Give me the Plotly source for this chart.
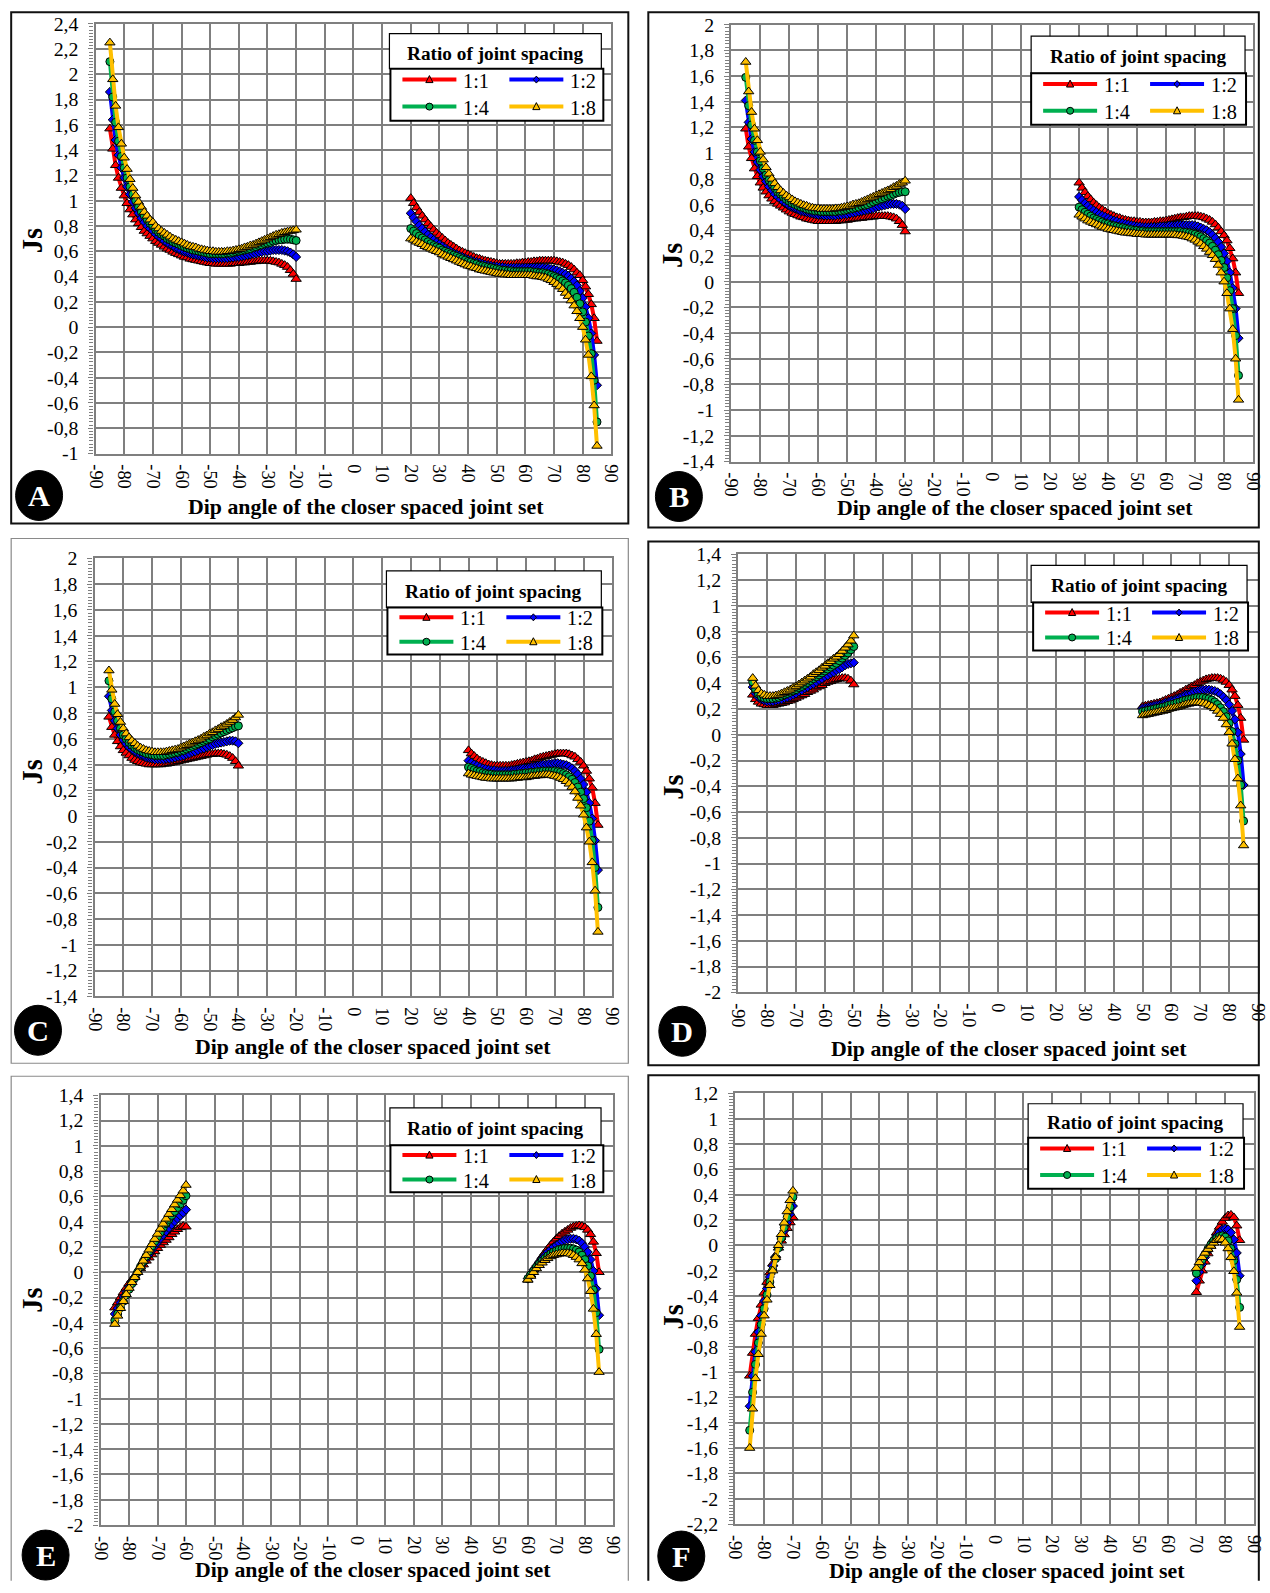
import plotly.graph_objects as go

# Figure size, and how its pixels land in the final 1270x1593 picture
# (the page adds a small offset and renders at a slight zoom).
FIG_W, FIG_H = 1270, 1593
OFF_X, ZOOM_X = 9.4, 0.9847
OFF_Y, ZOOM_Y = 10.3, 0.9866
FONT = "Liberation Serif"
GRID = "#7f7f7f"

SERIES = ["1:1", "1:2", "1:4", "1:8"]
COLORS = ["#FF0000", "#0000FF", "#00B050", "#FFC000"]
SYMBOLS = ["triangle-up", "diamond", "circle", "triangle-up"]
MARKER_SIZES = [9, 7, 8, 9]

X_TICKS = [-90, -80, -70, -60, -50, -40, -30, -20, -10, 0, 10, 20, 30, 40, 50, 60, 70, 80, 90]
Y_TICKS_A = [-1.0, -0.8, -0.6, -0.4, -0.2, 0.0, 0.2, 0.4, 0.6, 0.8, 1.0, 1.2, 1.4, 1.6, 1.8, 2.0, 2.2, 2.4]
Y_TICKS_BC = [-1.4, -1.2, -1.0, -0.8, -0.6, -0.4, -0.2, 0.0, 0.2, 0.4, 0.6, 0.8, 1.0, 1.2, 1.4, 1.6, 1.8, 2.0]
Y_TICKS_DE = [-2.0, -1.8, -1.6, -1.4, -1.2, -1.0, -0.8, -0.6, -0.4, -0.2, 0.0, 0.2, 0.4, 0.6, 0.8, 1.0, 1.2, 1.4]
Y_TICKS_F = [-2.2, -2.0, -1.8, -1.6, -1.4, -1.2, -1.0, -0.8, -0.6, -0.4, -0.2, 0.0, 0.2, 0.4, 0.6, 0.8, 1.0, 1.2]

# ---------------- Panel A ----------------
A_LEFT_DIP = list(range(-85, -19))
A_RIGHT_DIP = list(range(20, 86))
A_L_11 = [1.57, 1.41, 1.28, 1.18, 1.10, 1.04, 0.98, 0.93, 0.89, 0.85,
          0.82, 0.79, 0.76, 0.74, 0.72, 0.70, 0.68, 0.665, 0.65, 0.635,
          0.62, 0.61, 0.595, 0.585, 0.575, 0.565, 0.555, 0.55, 0.54, 0.535,
          0.53, 0.525, 0.52, 0.515, 0.51, 0.505, 0.505, 0.50, 0.50, 0.50,
          0.50, 0.50, 0.50, 0.505, 0.505, 0.505, 0.51, 0.51, 0.515, 0.515,
          0.52, 0.52, 0.525, 0.525, 0.525, 0.525, 0.525, 0.52, 0.515, 0.51,
          0.50, 0.49, 0.475, 0.45, 0.42, 0.38]
A_L_12 = [1.86, 1.64, 1.48, 1.36, 1.26, 1.18, 1.11, 1.05, 0.99, 0.94,
          0.90, 0.86, 0.83, 0.80, 0.78, 0.76, 0.735, 0.715, 0.70, 0.68,
          0.665, 0.65, 0.64, 0.625, 0.615, 0.605, 0.595, 0.59, 0.58, 0.575,
          0.57, 0.565, 0.56, 0.555, 0.55, 0.55, 0.545, 0.545, 0.545, 0.545,
          0.545, 0.545, 0.55, 0.55, 0.555, 0.555, 0.56, 0.565, 0.57, 0.575,
          0.58, 0.585, 0.59, 0.595, 0.60, 0.60, 0.605, 0.61, 0.61, 0.61,
          0.61, 0.605, 0.60, 0.59, 0.575, 0.555]
A_L_14 = [2.10, 1.82, 1.62, 1.47, 1.35, 1.26, 1.18, 1.11, 1.05, 1.00,
          0.95, 0.91, 0.88, 0.85, 0.82, 0.80, 0.77, 0.75, 0.735, 0.72,
          0.70, 0.69, 0.675, 0.665, 0.655, 0.645, 0.635, 0.625, 0.62, 0.61,
          0.605, 0.60, 0.595, 0.59, 0.585, 0.58, 0.58, 0.58, 0.58, 0.58,
          0.58, 0.585, 0.585, 0.59, 0.595, 0.60, 0.605, 0.61, 0.615, 0.62,
          0.63, 0.635, 0.645, 0.65, 0.66, 0.665, 0.67, 0.68, 0.685, 0.69,
          0.69, 0.695, 0.695, 0.695, 0.69, 0.685]
A_L_18 = [2.25, 1.96, 1.75, 1.58, 1.45, 1.34, 1.25, 1.17, 1.10, 1.04,
          0.99, 0.95, 0.91, 0.88, 0.85, 0.83, 0.80, 0.78, 0.76, 0.745,
          0.73, 0.715, 0.70, 0.69, 0.68, 0.67, 0.66, 0.65, 0.64, 0.635,
          0.63, 0.62, 0.615, 0.61, 0.605, 0.60, 0.60, 0.595, 0.595, 0.595,
          0.595, 0.60, 0.60, 0.605, 0.61, 0.615, 0.62, 0.63, 0.635, 0.645,
          0.65, 0.66, 0.67, 0.68, 0.69, 0.70, 0.71, 0.72, 0.73, 0.735,
          0.745, 0.75, 0.755, 0.76, 0.765, 0.77]
A_R_11 = [1.02, 0.98, 0.945, 0.91, 0.88, 0.85, 0.82, 0.795, 0.77, 0.745,
          0.725, 0.705, 0.685, 0.665, 0.65, 0.635, 0.62, 0.605, 0.595, 0.585,
          0.575, 0.565, 0.555, 0.545, 0.54, 0.53, 0.525, 0.52, 0.515, 0.51,
          0.505, 0.50, 0.50, 0.50, 0.50, 0.50, 0.50, 0.505, 0.505, 0.51,
          0.51, 0.515, 0.515, 0.52, 0.52, 0.525, 0.525, 0.525, 0.525, 0.525,
          0.525, 0.52, 0.515, 0.51, 0.50, 0.49, 0.475, 0.455, 0.43, 0.41,
          0.37, 0.32, 0.26, 0.18, 0.07, -0.11]
A_R_12 = [0.90, 0.865, 0.835, 0.805, 0.78, 0.755, 0.73, 0.71, 0.69, 0.67,
          0.655, 0.64, 0.625, 0.61, 0.60, 0.585, 0.575, 0.565, 0.555, 0.545,
          0.535, 0.53, 0.52, 0.515, 0.51, 0.50, 0.495, 0.49, 0.485, 0.48,
          0.48, 0.475, 0.475, 0.47, 0.47, 0.47, 0.47, 0.47, 0.47, 0.47,
          0.47, 0.47, 0.47, 0.47, 0.47, 0.47, 0.47, 0.465, 0.465, 0.46,
          0.455, 0.45, 0.44, 0.43, 0.42, 0.405, 0.385, 0.36, 0.33, 0.285,
          0.23, 0.16, 0.07, -0.05, -0.22, -0.46]
A_R_14 = [0.78, 0.76, 0.74, 0.72, 0.705, 0.69, 0.675, 0.66, 0.645, 0.635,
          0.625, 0.61, 0.60, 0.59, 0.58, 0.57, 0.56, 0.55, 0.54, 0.53,
          0.52, 0.515, 0.505, 0.50, 0.49, 0.485, 0.48, 0.475, 0.47, 0.465,
          0.46, 0.455, 0.45, 0.45, 0.445, 0.445, 0.44, 0.44, 0.44, 0.44,
          0.44, 0.44, 0.44, 0.435, 0.435, 0.43, 0.43, 0.425, 0.42, 0.41,
          0.40, 0.39, 0.38, 0.365, 0.35, 0.33, 0.305, 0.275, 0.235, 0.185,
          0.12, 0.04, -0.07, -0.21, -0.42, -0.75]
A_R_18 = [0.70, 0.69, 0.675, 0.665, 0.655, 0.64, 0.63, 0.62, 0.61, 0.60,
          0.59, 0.575, 0.565, 0.555, 0.545, 0.535, 0.525, 0.515, 0.505, 0.495,
          0.485, 0.48, 0.47, 0.465, 0.455, 0.45, 0.445, 0.44, 0.435, 0.43,
          0.425, 0.42, 0.42, 0.415, 0.415, 0.41, 0.41, 0.41, 0.41, 0.41,
          0.41, 0.41, 0.41, 0.405, 0.40, 0.40, 0.395, 0.39, 0.38, 0.37,
          0.355, 0.34, 0.32, 0.30, 0.27, 0.245, 0.21, 0.17, 0.125, 0.07,
          0.0, -0.10, -0.22, -0.39, -0.62, -0.94]

# ---------------- Panel B ----------------
B_LEFT_DIP = list(range(-85, -29))
B_RIGHT_DIP = list(range(30, 86))
B_L_11 = [1.19, 1.05, 0.96, 0.88, 0.82, 0.77, 0.73, 0.70, 0.67, 0.645,
          0.625, 0.605, 0.59, 0.575, 0.56, 0.545, 0.535, 0.525, 0.515, 0.505,
          0.50, 0.49, 0.485, 0.48, 0.475, 0.47, 0.47, 0.47, 0.47, 0.47,
          0.47, 0.47, 0.475, 0.475, 0.48, 0.48, 0.485, 0.49, 0.49, 0.495,
          0.495, 0.50, 0.50, 0.505, 0.505, 0.51, 0.51, 0.51, 0.51, 0.51,
          0.505, 0.50, 0.49, 0.47, 0.44, 0.39]
B_L_12 = [1.41, 1.24, 1.11, 1.01, 0.93, 0.87, 0.82, 0.78, 0.74, 0.71,
          0.68, 0.66, 0.64, 0.62, 0.605, 0.59, 0.58, 0.57, 0.56, 0.55,
          0.545, 0.54, 0.535, 0.53, 0.525, 0.52, 0.52, 0.515, 0.515, 0.515,
          0.515, 0.515, 0.52, 0.52, 0.525, 0.525, 0.53, 0.535, 0.54, 0.545,
          0.55, 0.555, 0.56, 0.565, 0.57, 0.58, 0.585, 0.59, 0.595, 0.60,
          0.605, 0.605, 0.605, 0.60, 0.59, 0.565]
B_L_14 = [1.59, 1.37, 1.22, 1.10, 1.01, 0.94, 0.88, 0.83, 0.79, 0.76,
          0.73, 0.70, 0.68, 0.66, 0.64, 0.625, 0.61, 0.60, 0.59, 0.58,
          0.575, 0.565, 0.56, 0.555, 0.55, 0.55, 0.545, 0.545, 0.545, 0.545,
          0.545, 0.545, 0.55, 0.55, 0.555, 0.56, 0.565, 0.57, 0.575, 0.58,
          0.59, 0.595, 0.60, 0.61, 0.62, 0.63, 0.64, 0.645, 0.655, 0.665,
          0.67, 0.68, 0.69, 0.695, 0.70, 0.70]
B_L_18 = [1.71, 1.48, 1.32, 1.19, 1.10, 1.01, 0.95, 0.89, 0.84, 0.80,
          0.765, 0.735, 0.71, 0.69, 0.67, 0.655, 0.64, 0.625, 0.615, 0.605,
          0.595, 0.59, 0.58, 0.575, 0.57, 0.57, 0.565, 0.565, 0.565, 0.565,
          0.565, 0.57, 0.57, 0.575, 0.58, 0.585, 0.59, 0.60, 0.605, 0.61,
          0.62, 0.63, 0.64, 0.65, 0.66, 0.67, 0.68, 0.69, 0.70, 0.71,
          0.72, 0.735, 0.745, 0.76, 0.77, 0.785]
B_R_11 = [0.77, 0.73, 0.695, 0.665, 0.64, 0.615, 0.595, 0.575, 0.56, 0.545,
          0.53, 0.52, 0.51, 0.50, 0.495, 0.485, 0.48, 0.475, 0.47, 0.47,
          0.465, 0.465, 0.46, 0.46, 0.46, 0.46, 0.465, 0.465, 0.47, 0.47,
          0.475, 0.48, 0.485, 0.49, 0.495, 0.50, 0.50, 0.505, 0.51, 0.51,
          0.51, 0.51, 0.505, 0.50, 0.49, 0.48, 0.465, 0.445, 0.42, 0.39,
          0.36, 0.32, 0.26, 0.18, 0.07, -0.09]
B_R_12 = [0.66, 0.635, 0.61, 0.59, 0.57, 0.555, 0.54, 0.525, 0.515, 0.505,
          0.495, 0.485, 0.475, 0.47, 0.46, 0.455, 0.45, 0.445, 0.44, 0.435,
          0.43, 0.43, 0.425, 0.425, 0.425, 0.425, 0.425, 0.425, 0.43, 0.43,
          0.43, 0.435, 0.435, 0.435, 0.44, 0.44, 0.44, 0.44, 0.44, 0.44,
          0.435, 0.43, 0.42, 0.41, 0.40, 0.385, 0.365, 0.34, 0.31, 0.27,
          0.22, 0.16, 0.07, -0.05, -0.21, -0.44]
B_R_14 = [0.58, 0.56, 0.54, 0.525, 0.51, 0.495, 0.485, 0.475, 0.465, 0.455,
          0.45, 0.44, 0.435, 0.43, 0.425, 0.42, 0.415, 0.41, 0.405, 0.40,
          0.40, 0.395, 0.395, 0.39, 0.39, 0.39, 0.39, 0.39, 0.39, 0.39,
          0.39, 0.39, 0.39, 0.39, 0.39, 0.39, 0.385, 0.385, 0.38, 0.375,
          0.37, 0.36, 0.35, 0.335, 0.32, 0.30, 0.275, 0.245, 0.21, 0.165,
          0.11, 0.03, -0.07, -0.21, -0.42, -0.73]
B_R_18 = [0.52, 0.505, 0.49, 0.475, 0.465, 0.455, 0.445, 0.435, 0.425, 0.42,
          0.41, 0.405, 0.40, 0.395, 0.39, 0.385, 0.38, 0.38, 0.375, 0.375,
          0.37, 0.37, 0.37, 0.365, 0.365, 0.365, 0.365, 0.365, 0.365, 0.365,
          0.365, 0.365, 0.365, 0.365, 0.36, 0.36, 0.355, 0.35, 0.345, 0.335,
          0.325, 0.31, 0.295, 0.275, 0.255, 0.23, 0.205, 0.175, 0.13, 0.07,
          0.0, -0.09, -0.21, -0.37, -0.60, -0.92]

# ---------------- Panel C ----------------
C_LEFT_DIP = list(range(-85, -39))
C_RIGHT_DIP = list(range(40, 86))
C_L_11 = [0.77, 0.69, 0.63, 0.58, 0.54, 0.51, 0.49, 0.47, 0.45, 0.435,
          0.425, 0.415, 0.41, 0.405, 0.40, 0.40, 0.40, 0.40, 0.40, 0.405,
          0.405, 0.41, 0.415, 0.42, 0.425, 0.43, 0.435, 0.44, 0.445, 0.45,
          0.455, 0.46, 0.465, 0.47, 0.475, 0.48, 0.48, 0.485, 0.485, 0.485,
          0.48, 0.475, 0.465, 0.45, 0.425, 0.39]
C_L_12 = [0.93, 0.82, 0.74, 0.68, 0.63, 0.59, 0.56, 0.535, 0.515, 0.50,
          0.485, 0.475, 0.465, 0.455, 0.45, 0.445, 0.44, 0.44, 0.44, 0.44,
          0.445, 0.445, 0.45, 0.455, 0.46, 0.465, 0.47, 0.48, 0.485, 0.495,
          0.50, 0.51, 0.52, 0.525, 0.535, 0.545, 0.55, 0.56, 0.565, 0.57,
          0.575, 0.58, 0.585, 0.585, 0.58, 0.565]
C_L_14 = [1.05, 0.91, 0.81, 0.74, 0.68, 0.63, 0.60, 0.57, 0.55, 0.53,
          0.515, 0.505, 0.495, 0.485, 0.48, 0.475, 0.47, 0.47, 0.47, 0.47,
          0.475, 0.48, 0.485, 0.49, 0.495, 0.505, 0.51, 0.52, 0.53, 0.54,
          0.55, 0.56, 0.57, 0.58, 0.59, 0.60, 0.615, 0.625, 0.635, 0.645,
          0.655, 0.665, 0.675, 0.685, 0.695, 0.70]
C_L_18 = [1.13, 0.98, 0.87, 0.79, 0.73, 0.68, 0.64, 0.61, 0.585, 0.565,
          0.545, 0.53, 0.52, 0.51, 0.505, 0.50, 0.495, 0.495, 0.495, 0.495,
          0.50, 0.505, 0.51, 0.515, 0.52, 0.53, 0.54, 0.55, 0.56, 0.57,
          0.58, 0.59, 0.60, 0.615, 0.625, 0.64, 0.65, 0.665, 0.675, 0.69,
          0.70, 0.715, 0.73, 0.745, 0.765, 0.785]
C_R_11 = [0.51, 0.485, 0.465, 0.445, 0.43, 0.42, 0.41, 0.40, 0.395, 0.39,
          0.39, 0.39, 0.39, 0.39, 0.39, 0.395, 0.40, 0.405, 0.41, 0.415,
          0.42, 0.425, 0.43, 0.44, 0.445, 0.455, 0.46, 0.465, 0.47, 0.475,
          0.48, 0.485, 0.485, 0.485, 0.485, 0.48, 0.47, 0.46, 0.44, 0.42,
          0.39, 0.35, 0.29, 0.22, 0.10, -0.07]
C_R_12 = [0.43, 0.415, 0.40, 0.39, 0.38, 0.37, 0.365, 0.36, 0.355, 0.355,
          0.35, 0.35, 0.35, 0.35, 0.35, 0.355, 0.355, 0.36, 0.365, 0.37,
          0.37, 0.375, 0.38, 0.385, 0.39, 0.395, 0.40, 0.40, 0.405, 0.405,
          0.41, 0.41, 0.405, 0.40, 0.395, 0.385, 0.37, 0.35, 0.325, 0.29,
          0.245, 0.185, 0.10, -0.02, -0.19, -0.42]
C_R_14 = [0.38, 0.37, 0.36, 0.35, 0.345, 0.335, 0.33, 0.325, 0.325, 0.32,
          0.32, 0.32, 0.32, 0.32, 0.32, 0.32, 0.325, 0.325, 0.33, 0.33,
          0.335, 0.335, 0.34, 0.34, 0.345, 0.345, 0.35, 0.35, 0.35, 0.35,
          0.35, 0.345, 0.34, 0.33, 0.32, 0.305, 0.285, 0.26, 0.225, 0.185,
          0.135, 0.065, -0.04, -0.19, -0.40, -0.71]
C_R_18 = [0.33, 0.32, 0.315, 0.31, 0.305, 0.30, 0.295, 0.295, 0.29, 0.29,
          0.29, 0.29, 0.29, 0.29, 0.29, 0.29, 0.295, 0.295, 0.30, 0.30,
          0.30, 0.305, 0.31, 0.31, 0.315, 0.315, 0.32, 0.32, 0.32, 0.315,
          0.31, 0.305, 0.295, 0.285, 0.27, 0.25, 0.225, 0.19, 0.14, 0.08,
          0.01, -0.09, -0.20, -0.36, -0.58, -0.90]

# ---------------- Panel D ----------------
D_LEFT_DIP = list(range(-85, -49))
D_RIGHT_DIP = list(range(50, 86))
D_L_11 = [0.31, 0.275, 0.255, 0.24, 0.235, 0.23, 0.23, 0.23, 0.235, 0.24,
          0.245, 0.25, 0.26, 0.265, 0.275, 0.285, 0.295, 0.305, 0.315, 0.33,
          0.34, 0.35, 0.365, 0.375, 0.385, 0.40, 0.41, 0.415, 0.425, 0.43,
          0.435, 0.44, 0.44, 0.435, 0.42, 0.39]
D_L_12 = [0.37, 0.32, 0.29, 0.275, 0.265, 0.26, 0.26, 0.26, 0.265, 0.27,
          0.275, 0.285, 0.29, 0.30, 0.31, 0.32, 0.335, 0.345, 0.36, 0.37,
          0.385, 0.395, 0.41, 0.425, 0.435, 0.45, 0.46, 0.475, 0.485, 0.50,
          0.51, 0.525, 0.54, 0.55, 0.555, 0.56]
D_L_14 = [0.41, 0.35, 0.315, 0.295, 0.285, 0.28, 0.28, 0.28, 0.285, 0.29,
          0.30, 0.31, 0.32, 0.33, 0.34, 0.35, 0.365, 0.375, 0.39, 0.405,
          0.42, 0.435, 0.45, 0.465, 0.48, 0.495, 0.51, 0.525, 0.54, 0.555,
          0.575, 0.595, 0.615, 0.635, 0.66, 0.685]
D_L_18 = [0.44, 0.38, 0.345, 0.32, 0.31, 0.30, 0.30, 0.30, 0.305, 0.31,
          0.32, 0.33, 0.34, 0.35, 0.365, 0.375, 0.39, 0.405, 0.42, 0.435,
          0.45, 0.47, 0.485, 0.50, 0.52, 0.535, 0.555, 0.57, 0.59, 0.605,
          0.625, 0.65, 0.675, 0.70, 0.73, 0.77]
D_R_11 = [0.22, 0.225, 0.23, 0.235, 0.24, 0.245, 0.25, 0.26, 0.27, 0.28,
          0.29, 0.30, 0.31, 0.325, 0.335, 0.35, 0.36, 0.375, 0.385, 0.40,
          0.41, 0.42, 0.43, 0.435, 0.44, 0.44, 0.44, 0.435, 0.425, 0.41,
          0.385, 0.35, 0.30, 0.23, 0.13, -0.04]
D_R_12 = [0.205, 0.21, 0.215, 0.22, 0.225, 0.23, 0.235, 0.24, 0.25, 0.255,
          0.265, 0.27, 0.28, 0.29, 0.30, 0.31, 0.315, 0.325, 0.335, 0.34,
          0.345, 0.35, 0.35, 0.35, 0.345, 0.34, 0.33, 0.315, 0.295, 0.27,
          0.235, 0.185, 0.12, 0.02, -0.15, -0.39]
D_R_14 = [0.18, 0.185, 0.19, 0.195, 0.20, 0.205, 0.21, 0.215, 0.22, 0.23,
          0.235, 0.24, 0.25, 0.255, 0.265, 0.27, 0.275, 0.28, 0.285, 0.29,
          0.29, 0.29, 0.285, 0.28, 0.27, 0.255, 0.235, 0.21, 0.18, 0.14,
          0.09, 0.025, -0.07, -0.20, -0.39, -0.67]
D_R_18 = [0.15, 0.155, 0.16, 0.165, 0.17, 0.175, 0.18, 0.185, 0.19, 0.20,
          0.205, 0.21, 0.215, 0.22, 0.23, 0.235, 0.24, 0.245, 0.25, 0.25,
          0.25, 0.245, 0.24, 0.23, 0.22, 0.205, 0.185, 0.16, 0.13, 0.08,
          0.02, -0.07, -0.19, -0.34, -0.55, -0.86]

# ---------------- Panel E ----------------
E_LEFT_DIP = list(range(-85, -59))
E_RIGHT_DIP = list(range(60, 86))
E_L_11 = [-0.28, -0.24, -0.20, -0.16, -0.125, -0.09, -0.06, -0.03, 0.0, 0.03,
          0.06, 0.09, 0.115, 0.14, 0.165, 0.19, 0.215, 0.235, 0.255, 0.275,
          0.30, 0.32, 0.34, 0.355, 0.365, 0.36]
E_L_12 = [-0.33, -0.285, -0.24, -0.195, -0.155, -0.115, -0.075, -0.037, 0.0, 0.036,
          0.071, 0.106, 0.14, 0.173, 0.205, 0.236, 0.266, 0.295, 0.323, 0.35,
          0.376, 0.401, 0.425, 0.448, 0.47, 0.495]
E_L_14 = [-0.38, -0.33, -0.28, -0.23, -0.18, -0.135, -0.09, -0.045, 0.0, 0.043,
          0.085, 0.126, 0.166, 0.205, 0.243, 0.28, 0.316, 0.351, 0.385, 0.418,
          0.45, 0.481, 0.511, 0.54, 0.57, 0.605]
E_L_18 = [-0.41, -0.345, -0.285, -0.23, -0.175, -0.125, -0.08, -0.04, 0.0, 0.045,
          0.09, 0.135, 0.178, 0.22, 0.262, 0.303, 0.343, 0.383, 0.422, 0.46,
          0.498, 0.535, 0.572, 0.608, 0.645, 0.69]
E_R_11 = [-0.06, -0.02, 0.02, 0.055, 0.09, 0.125, 0.155, 0.185, 0.215, 0.24,
          0.265, 0.285, 0.305, 0.32, 0.335, 0.35, 0.36, 0.365, 0.37, 0.365,
          0.355, 0.335, 0.30, 0.24, 0.15, 0.0]
E_R_12 = [-0.05, -0.015, 0.02, 0.05, 0.08, 0.11, 0.135, 0.16, 0.18, 0.20,
          0.215, 0.23, 0.245, 0.255, 0.26, 0.265, 0.265, 0.26, 0.25, 0.23,
          0.20, 0.16, 0.10, 0.01, -0.13, -0.34]
E_R_14 = [-0.05, -0.02, 0.01, 0.04, 0.065, 0.09, 0.11, 0.13, 0.145, 0.16,
          0.17, 0.18, 0.185, 0.19, 0.19, 0.19, 0.185, 0.175, 0.16, 0.135,
          0.10, 0.05, -0.03, -0.14, -0.32, -0.61]
E_R_18 = [-0.06, -0.03, 0.0, 0.03, 0.055, 0.075, 0.095, 0.11, 0.125, 0.135,
          0.14, 0.145, 0.15, 0.15, 0.15, 0.145, 0.135, 0.12, 0.10, 0.07,
          0.02, -0.05, -0.15, -0.29, -0.49, -0.79]

# ---------------- Panel F ----------------
F_LEFT_DIP = list(range(-85, -69))
F_RIGHT_DIP = list(range(70, 86))
F_L_11 = [-1.03, -0.85, -0.70, -0.575, -0.47, -0.375, -0.29, -0.215, -0.145, -0.08,
          -0.02, 0.035, 0.085, 0.135, 0.18, 0.22]
F_L_12 = [-1.27, -1.03, -0.84, -0.685, -0.555, -0.44, -0.34, -0.25, -0.165, -0.09,
          -0.02, 0.05, 0.115, 0.18, 0.245, 0.31]
F_L_14 = [-1.46, -1.16, -0.94, -0.77, -0.625, -0.50, -0.39, -0.29, -0.195, -0.105,
          -0.02, 0.06, 0.14, 0.22, 0.30, 0.38]
F_L_18 = [-1.60, -1.29, -1.05, -0.86, -0.70, -0.555, -0.43, -0.315, -0.20, -0.095,
          0.0, 0.087, 0.178, 0.267, 0.355, 0.43]
F_R_11 = [-0.37, -0.28, -0.20, -0.13, -0.065, -0.005, 0.05, 0.10, 0.145, 0.185,
          0.215, 0.235, 0.24, 0.22, 0.155, 0.04]
F_R_12 = [-0.28, -0.21, -0.15, -0.095, -0.045, 0.0, 0.04, 0.075, 0.105, 0.125,
          0.13, 0.125, 0.10, 0.045, -0.06, -0.24]
F_R_14 = [-0.22, -0.165, -0.115, -0.07, -0.03, 0.005, 0.035, 0.055, 0.07, 0.075,
          0.065, 0.035, -0.025, -0.12, -0.27, -0.49]
F_R_18 = [-0.18, -0.135, -0.095, -0.06, -0.03, -0.005, 0.02, 0.04, 0.05, 0.045,
          0.02, -0.025, -0.095, -0.205, -0.375, -0.645]

PANELS = [
    dict(letter="A", ticks=Y_TICKS_A, ldip=A_LEFT_DIP, rdip=A_RIGHT_DIP,
         left=[A_L_11, A_L_12, A_L_14, A_L_18], right=[A_R_11, A_R_12, A_R_14, A_R_18]),
    dict(letter="B", ticks=Y_TICKS_BC, ldip=B_LEFT_DIP, rdip=B_RIGHT_DIP,
         left=[B_L_11, B_L_12, B_L_14, B_L_18], right=[B_R_11, B_R_12, B_R_14, B_R_18]),
    dict(letter="C", ticks=Y_TICKS_BC, ldip=C_LEFT_DIP, rdip=C_RIGHT_DIP,
         left=[C_L_11, C_L_12, C_L_14, C_L_18], right=[C_R_11, C_R_12, C_R_14, C_R_18]),
    dict(letter="D", ticks=Y_TICKS_DE, ldip=D_LEFT_DIP, rdip=D_RIGHT_DIP,
         left=[D_L_11, D_L_12, D_L_14, D_L_18], right=[D_R_11, D_R_12, D_R_14, D_R_18]),
    dict(letter="E", ticks=Y_TICKS_DE, ldip=E_LEFT_DIP, rdip=E_RIGHT_DIP,
         left=[E_L_11, E_L_12, E_L_14, E_L_18], right=[E_R_11, E_R_12, E_R_14, E_R_18]),
    dict(letter="F", ticks=Y_TICKS_F, ldip=F_LEFT_DIP, rdip=F_RIGHT_DIP,
         left=[F_L_11, F_L_12, F_L_14, F_L_18], right=[F_R_11, F_R_12, F_R_14, F_R_18]),
]

# picture geometry in pixels: frame, plot area, legend boxes, badge, titles
GEOM = [
    dict(frame=(8, 5, 628, 523), fcol="#111111", fw=2, plot=(95, 23, 611, 453),
         tbox=(389, 33, 601, 68), ebox=(390, 68, 603, 120), badge=(38.5, 495),
         xt=(366, 507), yt=(32, 240)),
    dict(frame=(648, 3, 1268, 527), fcol="#111111", fw=2, plot=(731, 24, 1253, 461),
         tbox=(1031, 35.5, 1245, 72.6), ebox=(1031, 72.6, 1246, 124), badge=(678.6, 496),
         xt=(1015, 508), yt=(672, 255)),
    dict(frame=(8, 538, 628, 1063), fcol="#8a8a8a", fw=1.2, plot=(94, 558, 612, 996),
         tbox=(386, 570.5, 601, 607), ebox=(387, 607, 602, 654), badge=(37.4, 1030),
         xt=(372.5, 1047), yt=(32, 771.5)),
    dict(frame=(648, 541, 1268, 1065), fcol="#111111", fw=2, plot=(738, 554, 1258, 992),
         tbox=(1031, 565, 1247, 602), ebox=(1033, 602, 1248, 650), badge=(682, 1031),
         xt=(1009, 1048.6), yt=(673, 787)),
    dict(frame=(8, 1076, 628, 1592), fcol="#8a8a8a", fw=1.2, plot=(100, 1095, 613, 1525),
         tbox=(389.5, 1107.6, 600.7, 1145), ebox=(390, 1145, 603, 1192), badge=(45, 1555),
         xt=(372.7, 1570), yt=(32, 1300)),
    dict(frame=(648, 1075, 1268, 1592), fcol="#111111", fw=2, plot=(735, 1093, 1254, 1524),
         tbox=(1028, 1103.5, 1243, 1137.5), ebox=(1028, 1137.5, 1244, 1188.6), badge=(681, 1556),
         xt=(1006.6, 1571), yt=(673, 1317)),
]


def fs(size):
    # text sizes compensated for the page zoom
    return size / ZOOM_X


def px(x):
    # picture pixel -> paper fraction of the figure
    return ((x - OFF_X) / ZOOM_X) / FIG_W


def py(y):
    return 1 - ((y - OFF_Y) / ZOOM_Y) / FIG_H


def tick_label(v):
    s = f"{v:.1f}".rstrip("0").rstrip(".")
    if s in ("-0", ""):
        s = "0"
    return s.replace(".", ",")


fig = go.Figure()
shapes = []
annotations = []
layout_axes = {}

# frame lines must stay inside the figure area
X_MIN, X_MAX = OFF_X + ZOOM_X * 1.2, OFF_X + ZOOM_X * (FIG_W - 1.2)
Y_MIN, Y_MAX = OFF_Y + ZOOM_Y * 1.2, OFF_Y + ZOOM_Y * (FIG_H - 1.2)

for i, (p, g) in enumerate(zip(PANELS, GEOM), start=1):
    sfx = "" if i == 1 else str(i)
    xa, ya = "x" + sfx, "y" + sfx

    for k in range(4):
        for dips, vals in ((p["ldip"], p["left"][k]), (p["rdip"], p["right"][k])):
            assert len(dips) == len(vals), (p["letter"], k, len(dips), len(vals))
            fig.add_trace(go.Scatter(
                x=dips, y=vals, xaxis=xa, yaxis=ya, mode="lines+markers",
                name=SERIES[k], showlegend=False, hoverinfo="skip",
                line=dict(color=COLORS[k], width=4),
                marker=dict(symbol=SYMBOLS[k], size=MARKER_SIZES[k], color=COLORS[k],
                            line=dict(color="black", width=1)),
            ))

    l, t, r, b = g["plot"]
    yt = p["ticks"]
    layout_axes["xaxis" + sfx] = dict(
        domain=[px(l), px(r)], anchor=ya, range=[-90, 90],
        tickmode="array", tickvals=X_TICKS, ticktext=[str(v) for v in X_TICKS],
        tickangle=90, ticks="", ticklabelstandoff=5,
        tickfont=dict(family=FONT, size=fs(18), color="black"),
        showgrid=True, gridcolor=GRID, gridwidth=2.4, zeroline=False,
        showline=True, linecolor=GRID, linewidth=2.4, mirror=True,
    )
    layout_axes["yaxis" + sfx] = dict(
        domain=[py(b), py(t)], anchor=xa, range=[yt[0], yt[-1]],
        tickmode="array", tickvals=yt, ticktext=[tick_label(v) for v in yt],
        ticks="outside", ticklen=5, tickcolor=GRID, tickwidth=1, ticklabelstandoff=6,
        minor=dict(ticks="outside", ticklen=4, tickcolor=GRID, tickwidth=1,
                   tickmode="linear", tick0=0, dtick=0.025, showgrid=False),
        tickfont=dict(family=FONT, size=fs(19.5), color="black"),
        showgrid=True, gridcolor=GRID, gridwidth=2.4, zeroline=False,
        showline=True, linecolor=GRID, linewidth=2.4, mirror=True,
    )

    # panel frame; a bottom edge that falls past the figure is left open
    fx0, fy0, fx1, fy1 = g["frame"]
    open_bottom = fy1 > Y_MAX
    fx0, fy0 = max(fx0, X_MIN), max(fy0, Y_MIN)
    fx1, fy1 = min(fx1, X_MAX), min(fy1, Y_MAX)
    if open_bottom:
        path = (f"M {px(fx0)} {py(fy1)} L {px(fx0)} {py(fy0)} "
                f"L {px(fx1)} {py(fy0)} L {px(fx1)} {py(fy1)}")
        shapes.append(dict(type="path", xref="paper", yref="paper", path=path,
                           line=dict(color=g["fcol"], width=g["fw"]), layer="above"))
    else:
        shapes.append(dict(type="rect", xref="paper", yref="paper",
                           x0=px(fx0), x1=px(fx1), y0=py(fy1), y1=py(fy0),
                           line=dict(color=g["fcol"], width=g["fw"]), layer="above"))

    # legend: title box and entry box
    tx0, ty0, tx1, ty1 = g["tbox"]
    ex0, ey0, ex1, ey1 = g["ebox"]
    shapes.append(dict(type="rect", xref="paper", yref="paper",
                       x0=px(tx0), x1=px(tx1), y0=py(ty1), y1=py(ty0),
                       fillcolor="white", line=dict(color="black", width=1.2), layer="above"))
    shapes.append(dict(type="rect", xref="paper", yref="paper",
                       x0=px(ex0), x1=px(ex1), y0=py(ey1), y1=py(ey0),
                       fillcolor="white", line=dict(color="black", width=2), layer="above"))
    annotations.append(dict(text="<b>Ratio of joint spacing</b>", xref="paper", yref="paper",
                            x=px((tx0 + tx1) / 2), y=py((ty0 + ty1) / 2 + 2),
                            xanchor="center", yanchor="middle", showarrow=False,
                            font=dict(family=FONT, size=fs(19), color="black")))
    eh = ey1 - ey0
    for k in range(4):
        col, row = k % 2, k // 2
        cy = ey0 + (0.21 if row == 0 else 0.73) * eh
        lx0 = ex0 + (12 if col == 0 else 119)
        lx1 = lx0 + 54
        shapes.append(dict(type="line", xref="paper", yref="paper",
                           x0=px(lx0), x1=px(lx1), y0=py(cy), y1=py(cy),
                           line=dict(color=COLORS[k], width=4), layer="above"))
        cx = (lx0 + lx1) / 2
        if SYMBOLS[k] == "circle":
            shapes.append(dict(type="circle", xref="paper", yref="paper",
                               x0=px(cx - 3.5), x1=px(cx + 3.5), y0=py(cy + 3.5), y1=py(cy - 3.5),
                               fillcolor=COLORS[k], line=dict(color="black", width=1), layer="above"))
        elif SYMBOLS[k] == "diamond":
            path = (f"M {px(cx)} {py(cy - 3.5)} L {px(cx + 3)} {py(cy)} "
                    f"L {px(cx)} {py(cy + 3.5)} L {px(cx - 3)} {py(cy)} Z")
            shapes.append(dict(type="path", xref="paper", yref="paper", path=path,
                               fillcolor=COLORS[k], line=dict(color="black", width=1), layer="above"))
        else:
            path = (f"M {px(cx)} {py(cy - 4)} L {px(cx + 3.6)} {py(cy + 3)} "
                    f"L {px(cx - 3.6)} {py(cy + 3)} Z")
            shapes.append(dict(type="path", xref="paper", yref="paper", path=path,
                               fillcolor=COLORS[k], line=dict(color="black", width=1), layer="above"))
        annotations.append(dict(text=SERIES[k], xref="paper", yref="paper",
                                x=px(lx1 + 5), y=py(cy + 1), xanchor="left", yanchor="middle",
                                showarrow=False, font=dict(family=FONT, size=fs(20), color="black")))

    # panel badge
    bx, by = g["badge"]
    shapes.append(dict(type="circle", xref="paper", yref="paper",
                       x0=px(bx - 23.5), x1=px(bx + 23.5), y0=py(by + 25), y1=py(by - 25),
                       fillcolor="black", line=dict(color="black", width=1), layer="above"))
    annotations.append(dict(text=f"<b>{p['letter']}</b>", xref="paper", yref="paper",
                            x=px(bx), y=py(by + 1), xanchor="center", yanchor="middle",
                            showarrow=False, font=dict(family=FONT, size=fs(30), color="white")))

    # axis titles
    xtx, xty = g["xt"]
    annotations.append(dict(text="<b>Dip angle of the closer spaced joint set</b>",
                            xref="paper", yref="paper", x=px(xtx), y=py(xty),
                            xanchor="center", yanchor="middle", showarrow=False,
                            font=dict(family=FONT, size=fs(21.5), color="black")))
    ytx, yty = g["yt"]
    annotations.append(dict(text="<b>Js</b>", xref="paper", yref="paper", x=px(ytx), y=py(yty),
                            xanchor="center", yanchor="middle", showarrow=False, textangle=-90,
                            font=dict(family=FONT, size=fs(28), color="black")))

fig.update_layout(
    width=FIG_W, height=FIG_H, margin=dict(l=0, r=0, t=0, b=0),
    paper_bgcolor="white", plot_bgcolor="white", showlegend=False,
    shapes=shapes, annotations=annotations, **layout_axes,
)

fig.write_html("out.html")
